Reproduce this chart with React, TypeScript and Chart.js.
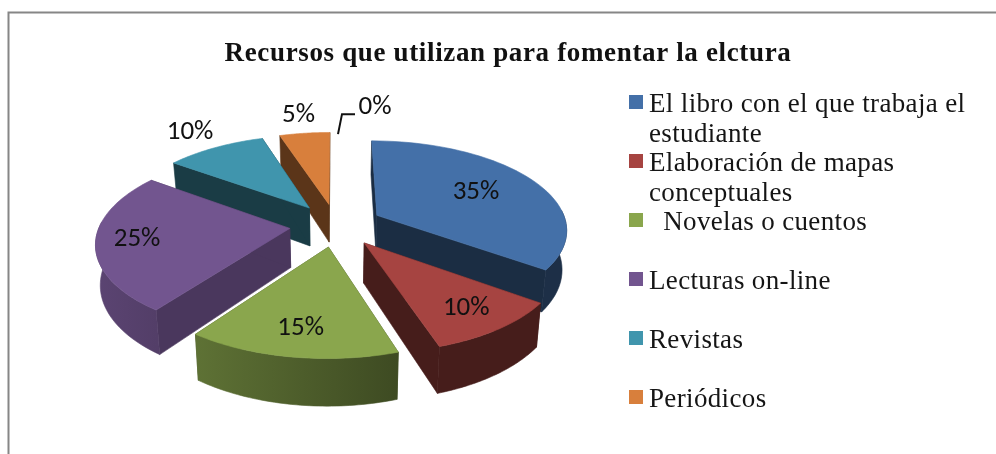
import React, { useEffect, useRef } from "react";
import { Chart, registerables } from "chart.js";

Chart.register(...registerables);

const TITLE = "Recursos que utilizan para fomentar la elctura";
const LABELS: (string | string[])[] = [
  ["El libro con el que trabaja el", "estudiante"],
  ["Elaboración de mapas", "conceptuales"],
  "  Novelas o cuentos",
  "Lecturas on-line",
  "Revistas",
  "Periódicos",
  "",
];
const VALUES = [35, 10, 15, 25, 10, 5, 0];
const COLORS = ["#4470a8", "#a64441", "#8aa64d", "#72558f", "#4095ad", "#d87f3c", "#8aa6cc"];
const WALL_SHADE = [0.4, 0.42, 0.5, 0.65, 0.4, 0.42, 0.4];
const LABEL_RADIUS = [0.63, 0.78, 0.77, 0.79, 1.3, 1.3, 1.35];

const SERIF = '"Liberation Serif", serif';
const SANS = 'Carlito, Lato, sans-serif';

// projection of the tilted pie
const CX = 336, CY = 225, RX = 190, RY = 88, PERSP = 0.146, DEPTH = 39, EXPLODE = 0.245;

function project(X: number, Y: number, z: number) {
  const w = 1 - PERSP * Y;
  const shrink = 1 - 0.02 * z;
  return [CX + (RX * X * shrink) / w, CY + (RY * Y + DEPTH * z) / w];
}

function shade(hex: string, f: number) {
  const n = parseInt(hex.slice(1), 16);
  const c = [(n >> 16) & 255, (n >> 8) & 255, n & 255].map((v) => Math.round(v * f));
  return `rgb(${c[0]},${c[1]},${c[2]})`;
}

const pie3d = {
  id: "pie3d",
  beforeDraw(chart: any) {
    chart.ctx.letterSpacing = "0.65px";
  },
  beforeDatasetDraw() {
    return false;
  },
  afterDatasetsDraw(chart: any) {
    const ctx: any = chart.ctx;
    ctx.letterSpacing = "0px";
    const arcs = chart.getDatasetMeta(0).data as any[];
    const slices = arcs.map((a, i) => {
      const t0 = a.startAngle + Math.PI / 2;
      const t1 = a.endAngle + Math.PI / 2;
      const mid = (t0 + t1) / 2;
      const ax = EXPLODE * Math.sin(mid);
      const ay = -EXPLODE * Math.cos(mid);
      return { i, t0, t1, mid, ax, ay };
    });
    const edge = (s: any, t: number, r = 1) => [s.ax + r * Math.sin(t), s.ay - r * Math.cos(t)];
    const order = slices.filter((s) => s.t1 > s.t0).sort((p, q) => p.ay - q.ay);

    const poly = (pts: number[][], fill: any) => {
      ctx.beginPath();
      pts.forEach((p, k) => (k ? ctx.lineTo(p[0], p[1]) : ctx.moveTo(p[0], p[1])));
      ctx.closePath();
      ctx.fillStyle = fill;
      ctx.fill();
      ctx.strokeStyle = fill;
      ctx.lineWidth = 0.6;
      ctx.stroke();
    };

    for (const s of order) {
      const col = COLORS[s.i];
      const wall = shade(col, WALL_SHADE[s.i]);
      const apexT = project(s.ax, s.ay, 0);
      const apexB = project(s.ax, s.ay, 1);
      for (const t of [s.t0, s.t1]) {
        const e = edge(s, t);
        poly([apexT, project(e[0], e[1], 0), project(e[0], e[1], 1), apexB], wall);
      }
      const steps = 48;
      const top: number[][] = [];
      const bottom: number[][] = [];
      for (let k = 0; k <= steps; k++) {
        const e = edge(s, s.t0 + ((s.t1 - s.t0) * k) / steps);
        top.push(project(e[0], e[1], 0));
        bottom.push(project(e[0], e[1], 1));
      }
      const grad = ctx.createLinearGradient(96, 0, 568, 0);
      grad.addColorStop(0, shade(col, 0.8));
      grad.addColorStop(0.69, shade(col, 0.42));
      grad.addColorStop(1, shade(col, 0.42));
      // only the part of the rim facing the viewer
      const rimT: number[][] = [];
      const rimB: number[][] = [];
      for (let k = 0; k <= steps; k++) {
        const t = s.t0 + ((s.t1 - s.t0) * k) / steps;
        if (Math.cos(t) < 0.1) {
          rimT.push(top[k]);
          rimB.push(bottom[k]);
        }
      }
      if (rimT.length > 1) poly([...rimT, ...rimB.reverse()], grad);
      poly([apexT, ...top], col);
    }

    // data labels
    ctx.fillStyle = "#111";
    ctx.font = `27px ${SANS}`;
    ctx.textAlign = "center";
    ctx.textBaseline = "middle";
    const total = VALUES.reduce((a, b) => a + b, 0);
    slices.forEach((s) => {
      const e = edge(s, s.mid, LABEL_RADIUS[s.i]);
      const p = project(e[0], e[1], 0);
      const pct = Math.round((VALUES[s.i] / total) * 100) + "%";
      if (VALUES[s.i] === 0) {
        const x = p[0] + 39;
        const y = p[1] - 4;
        ctx.beginPath();
        ctx.moveTo(x - 37, y + 27);
        ctx.lineTo(x - 33, y + 7);
        ctx.lineTo(x - 20, y + 7);
        ctx.strokeStyle = "#111";
        ctx.lineWidth = 2;
        ctx.stroke();
        ctx.fillText(pct, x, y);
      } else {
        ctx.fillText(pct, p[0], p[1]);
      }
    });

    // legend
    const lx = 629;
    ctx.textAlign = "left";
    ctx.textBaseline = "alphabetic";
    ctx.font = `27px ${SERIF}`;
    ctx.letterSpacing = "0.35px";
    LABELS.forEach((label, i) => {
      if (label === "") return;
      const cy = 102 + i * 59;
      ctx.fillStyle = COLORS[i];
      ctx.fillRect(lx, cy - 7, 14, 14);
      ctx.fillStyle = "#151515";
      const lines = Array.isArray(label) ? label : [label];
      lines.forEach((ln, k) => ctx.fillText(ln, lx + 20, cy + 10 + k * 30));
    });
    ctx.textAlign = "center";
    ctx.letterSpacing = "0px";

    // frame
    ctx.strokeStyle = "#868686";
    ctx.lineWidth = 2;
    ctx.beginPath();
    ctx.moveTo(8.5, 454);
    ctx.lineTo(8.5, 12.5);
    ctx.lineTo(996, 12.5);
    ctx.stroke();
  },
};

export default function App() {
  const ref = useRef<HTMLCanvasElement>(null);
  useEffect(() => {
    document.body.style.margin = "0";
    const chart = new Chart(ref.current as HTMLCanvasElement, {
      type: "pie",
      data: {
        labels: LABELS as any,
        datasets: [{ data: VALUES, backgroundColor: COLORS, borderWidth: 0 }],
      },
      options: {
        animation: false,
        responsive: false,
        layout: { padding: { left: 20 } },
        plugins: {
          legend: { display: false },
          tooltip: { enabled: false },
          title: {
            display: true,
            text: TITLE,
            color: "#111",
            font: { family: SERIF, size: 27, weight: "bold" },
            padding: { top: 38, bottom: 10 },
          },
        },
      },
      plugins: [pie3d],
    } as any);
    return () => chart.destroy();
  }, []);
  return <canvas ref={ref} width={996} height={454} style={{ display: "block", filter: "blur(0.4px)" }} />;
}
